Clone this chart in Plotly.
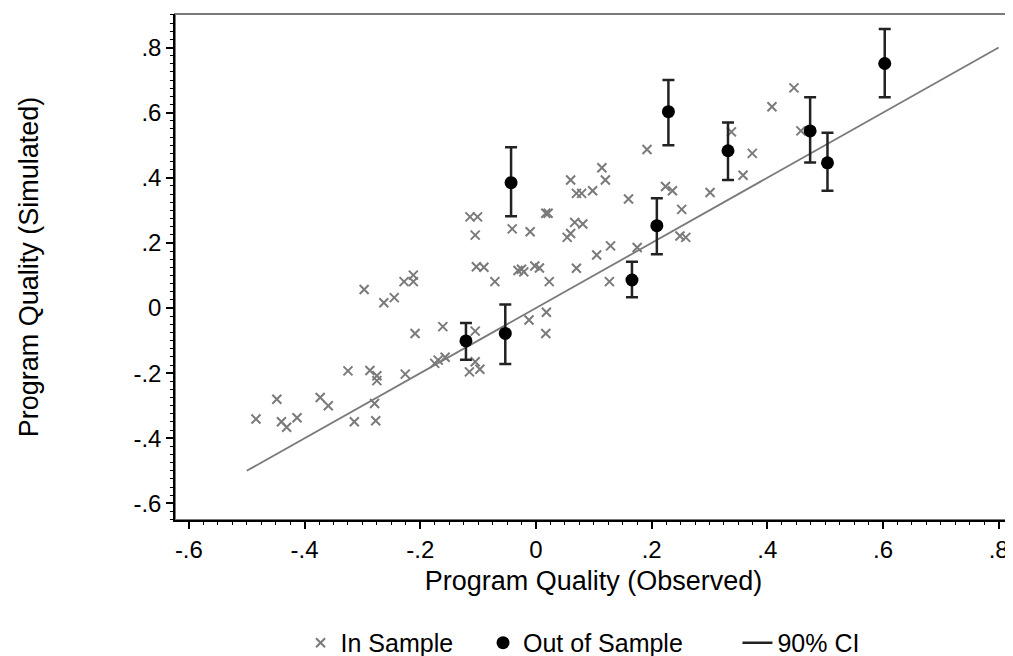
import plotly.graph_objects as go
import numpy as np

# In-sample points (observed, simulated)
in_x = [-0.484, -0.448, -0.440, -0.431, -0.413, -0.373, -0.359, -0.325, -0.314, -0.287,
        -0.275, -0.275, -0.279, -0.277, -0.297, -0.263, -0.245, -0.228, -0.212, -0.212,
        -0.209, -0.226, -0.175, -0.169, -0.157, -0.161, -0.114, -0.101, -0.105, -0.103,
        -0.090, -0.071, -0.105, -0.115, -0.097, -0.105, -0.041, -0.010, -0.031, -0.025,
        -0.021, -0.002, 0.006, 0.023, 0.017, 0.021, -0.012, 0.018, 0.017, 0.060,
        0.114, 0.120, 0.070, 0.079, 0.098, 0.160, 0.067, 0.081, 0.054, 0.060,
        0.105, 0.129, 0.175, 0.070, 0.127, 0.192, 0.224, 0.236, 0.252, 0.249,
        0.259, 0.301, 0.338, 0.358, 0.374, 0.408, 0.446, 0.458]
in_y = [-0.341, -0.280, -0.349, -0.366, -0.337, -0.275, -0.300, -0.193, -0.349, -0.192,
        -0.208, -0.223, -0.293, -0.346, 0.057, 0.016, 0.032, 0.081, 0.101, 0.081,
        -0.078, -0.203, -0.170, -0.160, -0.151, -0.057, 0.280, 0.280, 0.224, 0.127,
        0.125, 0.081, -0.071, -0.196, -0.188, -0.165, 0.243, 0.234, 0.115, 0.119,
        0.111, 0.129, 0.123, 0.081, 0.291, 0.291, -0.037, -0.013, -0.078, 0.393,
        0.431, 0.393, 0.352, 0.352, 0.360, 0.335, 0.263, 0.258, 0.217, 0.229,
        0.163, 0.191, 0.186, 0.122, 0.081, 0.487, 0.373, 0.360, 0.303, 0.221,
        0.217, 0.355, 0.541, 0.408, 0.475, 0.618, 0.676, 0.544]

# Out-of-sample points with 90% CI
oos_x = [-0.121, -0.053, -0.043, 0.166, 0.229, 0.209, 0.332, 0.474, 0.504, 0.603]
oos_y = [-0.101, -0.078, 0.385, 0.086, 0.603, 0.253, 0.483, 0.544, 0.446, 0.751]
oos_lo = [-0.159, -0.172, 0.282, 0.033, 0.500, 0.165, 0.393, 0.447, 0.360, 0.647]
oos_hi = [-0.046, 0.011, 0.494, 0.142, 0.700, 0.337, 0.570, 0.647, 0.538, 0.857]

# 45-degree reference line
line_x = [-0.5, 0.8]
line_y = [-0.5, 0.8]

tick_vals = [-0.6, -0.4, -0.2, 0, 0.2, 0.4, 0.6, 0.8]
tick_text = ['-.6', '-.4', '-.2', '0', '.2', '.4', '.6', '.8']

FONT = "Liberation Sans, Arial, sans-serif"
GRAY = "#7a7a7a"

ox = np.array(oos_x)
oy = np.array(oos_y)
err_plus = np.array(oos_hi) - oy
err_minus = oy - np.array(oos_lo)

fig = go.Figure()
fig.add_trace(go.Scatter(x=line_x, y=line_y, mode='lines',
                         line=dict(color=GRAY, width=1.8), showlegend=False,
                         hoverinfo='skip'))
fig.add_trace(go.Scatter(x=in_x, y=in_y, mode='markers', name='In Sample',
                         marker=dict(symbol='x-thin', size=9, color=GRAY,
                                     line=dict(color=GRAY, width=2)),
                         legend='legend'))
fig.add_trace(go.Scatter(x=ox, y=oy, mode='markers', name='Out of Sample',
                         marker=dict(symbol='circle', size=13, color='black'),
                         error_y=dict(type='data', symmetric=False, array=err_plus,
                                      arrayminus=err_minus, color='#222222',
                                      thickness=2.5, width=6),
                         legend='legend2'))
fig.add_trace(go.Scatter(x=[None], y=[None], mode='lines', name='90% CI',
                         line=dict(color='#222222', width=2.5), legend='legend3'))

axis_common = dict(
    tickvals=tick_vals, ticktext=tick_text, ticks='outside', ticklen=7,
    tickwidth=1.5, tickcolor='black', showline=True, linecolor='black',
    linewidth=1.5, showgrid=False, zeroline=False,
    tickfont=dict(family=FONT, size=24, color='black'),
    minor=dict(dtick=0.025, tick0=0, ticks='outside', ticklen=3,
               tickcolor='black', tickwidth=1, showgrid=False),
)

leg_common = dict(orientation='h', y=-0.243, xanchor='left', yanchor='middle',
                  font=dict(family=FONT, size=25), bgcolor='rgba(0,0,0,0)')

fig.update_layout(
    width=1013, height=670,
    margin=dict(l=167, r=9, t=6, b=158),
    plot_bgcolor='white', paper_bgcolor='white',
    font=dict(family=FONT, color='black'),
    xaxis=dict(range=[-0.624, 0.823],
               title=dict(text='Program Quality (Observed)',
                          font=dict(family=FONT, size=27), standoff=10),
               **axis_common),
    yaxis=dict(range=[-0.651, 0.903],
               title=dict(text='Program Quality (Simulated)',
                          font=dict(family=FONT, size=27), standoff=87),
               **axis_common),
    legend=dict(x=0.15, **leg_common),
    legend2=dict(x=0.368, **leg_common),
    legend3=dict(x=0.672, **leg_common),
    shapes=[dict(type='rect', xref='paper', yref='paper', x0=0, x1=1, y0=0, y1=1,
                 line=dict(color=GRAY, width=2), layer='below')],
)

fig.write_html("out.html")
